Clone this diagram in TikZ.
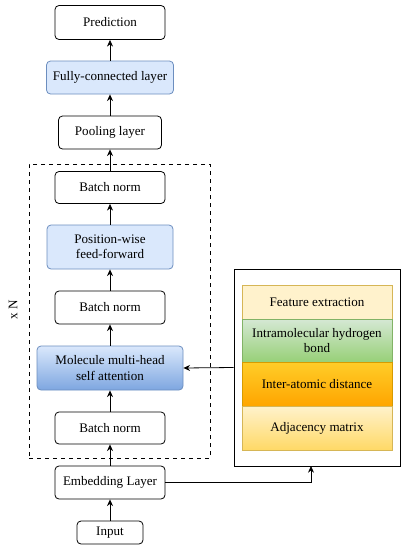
\documentclass[tikz,border=0pt]{standalone}
\usepackage{fontspec}
\setmainfont{Liberation Serif}
\usepackage{tikz}
\usetikzlibrary{arrows.meta}

\definecolor{lblue}{HTML}{DAE8FC}
\definecolor{dblue}{HTML}{7EA6E0}
\definecolor{bblue}{HTML}{6C8EBF}
\definecolor{lyel}{HTML}{FFF2CC}
\definecolor{dyel}{HTML}{FFD966}
\definecolor{byel}{HTML}{D6B656}
\definecolor{lgreen}{HTML}{D5E8D4}
\definecolor{dgreen}{HTML}{97D077}
\definecolor{bgreen}{HTML}{82B366}
\definecolor{lorange}{HTML}{FFCD28}
\definecolor{dorange}{HTML}{FFA500}
\definecolor{borange}{HTML}{D79B00}

\tikzset{
  layer/.style={draw, rounded corners=3pt, line width=0.6pt, align=center, inner sep=1pt},
  bluelayer/.style={layer, draw=bblue, fill=lblue},
  feat/.style={draw, line width=0.5pt, align=center, minimum width=112.5pt, inner sep=1pt},
  >={Stealth[length=5pt,width=4.5pt]}
}

\begin{document}
\begin{tikzpicture}[x=0.75pt,y=-0.75pt]
\fontsize{9.8pt}{11.5pt}\selectfont
\useasboundingbox (0,0) rectangle (409,550);
% main column
\node[layer, minimum width=82.5pt, minimum height=25.5pt] (pred) at (110,22.5) {Prediction};
\node[bluelayer, minimum width=95.25pt, minimum height=24.75pt] (fc) at (110,77.5) {Fully-connected layer};
\node[layer, minimum width=77.25pt, minimum height=24.75pt] (pool) at (110,132.5) {Pooling layer};
% repeated block
\node[draw, dashed, line width=0.6pt, minimum width=135.75pt, minimum height=220.5pt] (rep) at (119.5,311) {};
\node[rotate=90] (xn) at (13,310) {x N};
\node[layer, minimum width=82.5pt, minimum height=24pt] (bn1) at (110,187.5) {Batch norm};
\node[bluelayer, minimum width=94.5pt, minimum height=33pt] (pff) at (110,247) {Position-wise\\feed-forward};
\node[layer, minimum width=82.5pt, minimum height=24.75pt] (bn2) at (110,307.5) {Batch norm};
\node[layer, draw=bblue, top color=lblue, bottom color=dblue, minimum width=109.5pt, minimum height=33pt] (mha) at (110,368) {Molecule multi-head\\self attention};
\node[layer, minimum width=82.5pt, minimum height=24pt] (bn3) at (110,428) {Batch norm};
% input side
\node[layer, minimum width=82.5pt, minimum height=24.75pt] (emb) at (110,482.5) {Embedding Layer};
\node[layer, minimum width=49.5pt, minimum height=17.25pt] (inp) at (110,532.5) {Input};
% features
\node[draw, line width=0.6pt, minimum width=124.5pt, minimum height=147.75pt] (feat) at (317,367.5) {};
\node[feat, draw=byel, fill=lyel, minimum height=25.5pt] (fext) at (317,302) {Feature extraction};
\node[feat, draw=bgreen, top color=lgreen, bottom color=dgreen, minimum height=32.25pt] (hbond) at (317,340.5) {Intramolecular hydrogen\\bond};
\node[feat, draw=borange, top color=lorange, bottom color=dorange, minimum height=33pt] (dist) at (317,384) {Inter-atomic distance};
\node[feat, draw=byel, top color=lyel, bottom color=dyel, minimum height=33pt] (adj) at (317,428) {Adjacency matrix};
\coordinate (fin) at (311,466);
% arrows
\draw[->, line width=0.6pt] (inp) -- (emb);
\draw[->, line width=0.6pt] (emb) -- (bn3);
\draw[->, line width=0.6pt] (bn3) -- (mha);
\draw[->, line width=0.6pt] (mha) -- (bn2);
\draw[->, line width=0.6pt] (bn2) -- (pff);
\draw[->, line width=0.6pt] (pff) -- (bn1);
\draw[->, line width=0.6pt] (bn1) -- (pool);
\draw[->, line width=0.6pt] (pool) -- (fc);
\draw[->, line width=0.6pt] (fc) -- (pred);
\draw[->, line width=0.6pt] (feat.west) -- (mha.east);
\draw[->, line width=0.6pt] (emb.east) -| (fin);
\end{tikzpicture}
\end{document}
